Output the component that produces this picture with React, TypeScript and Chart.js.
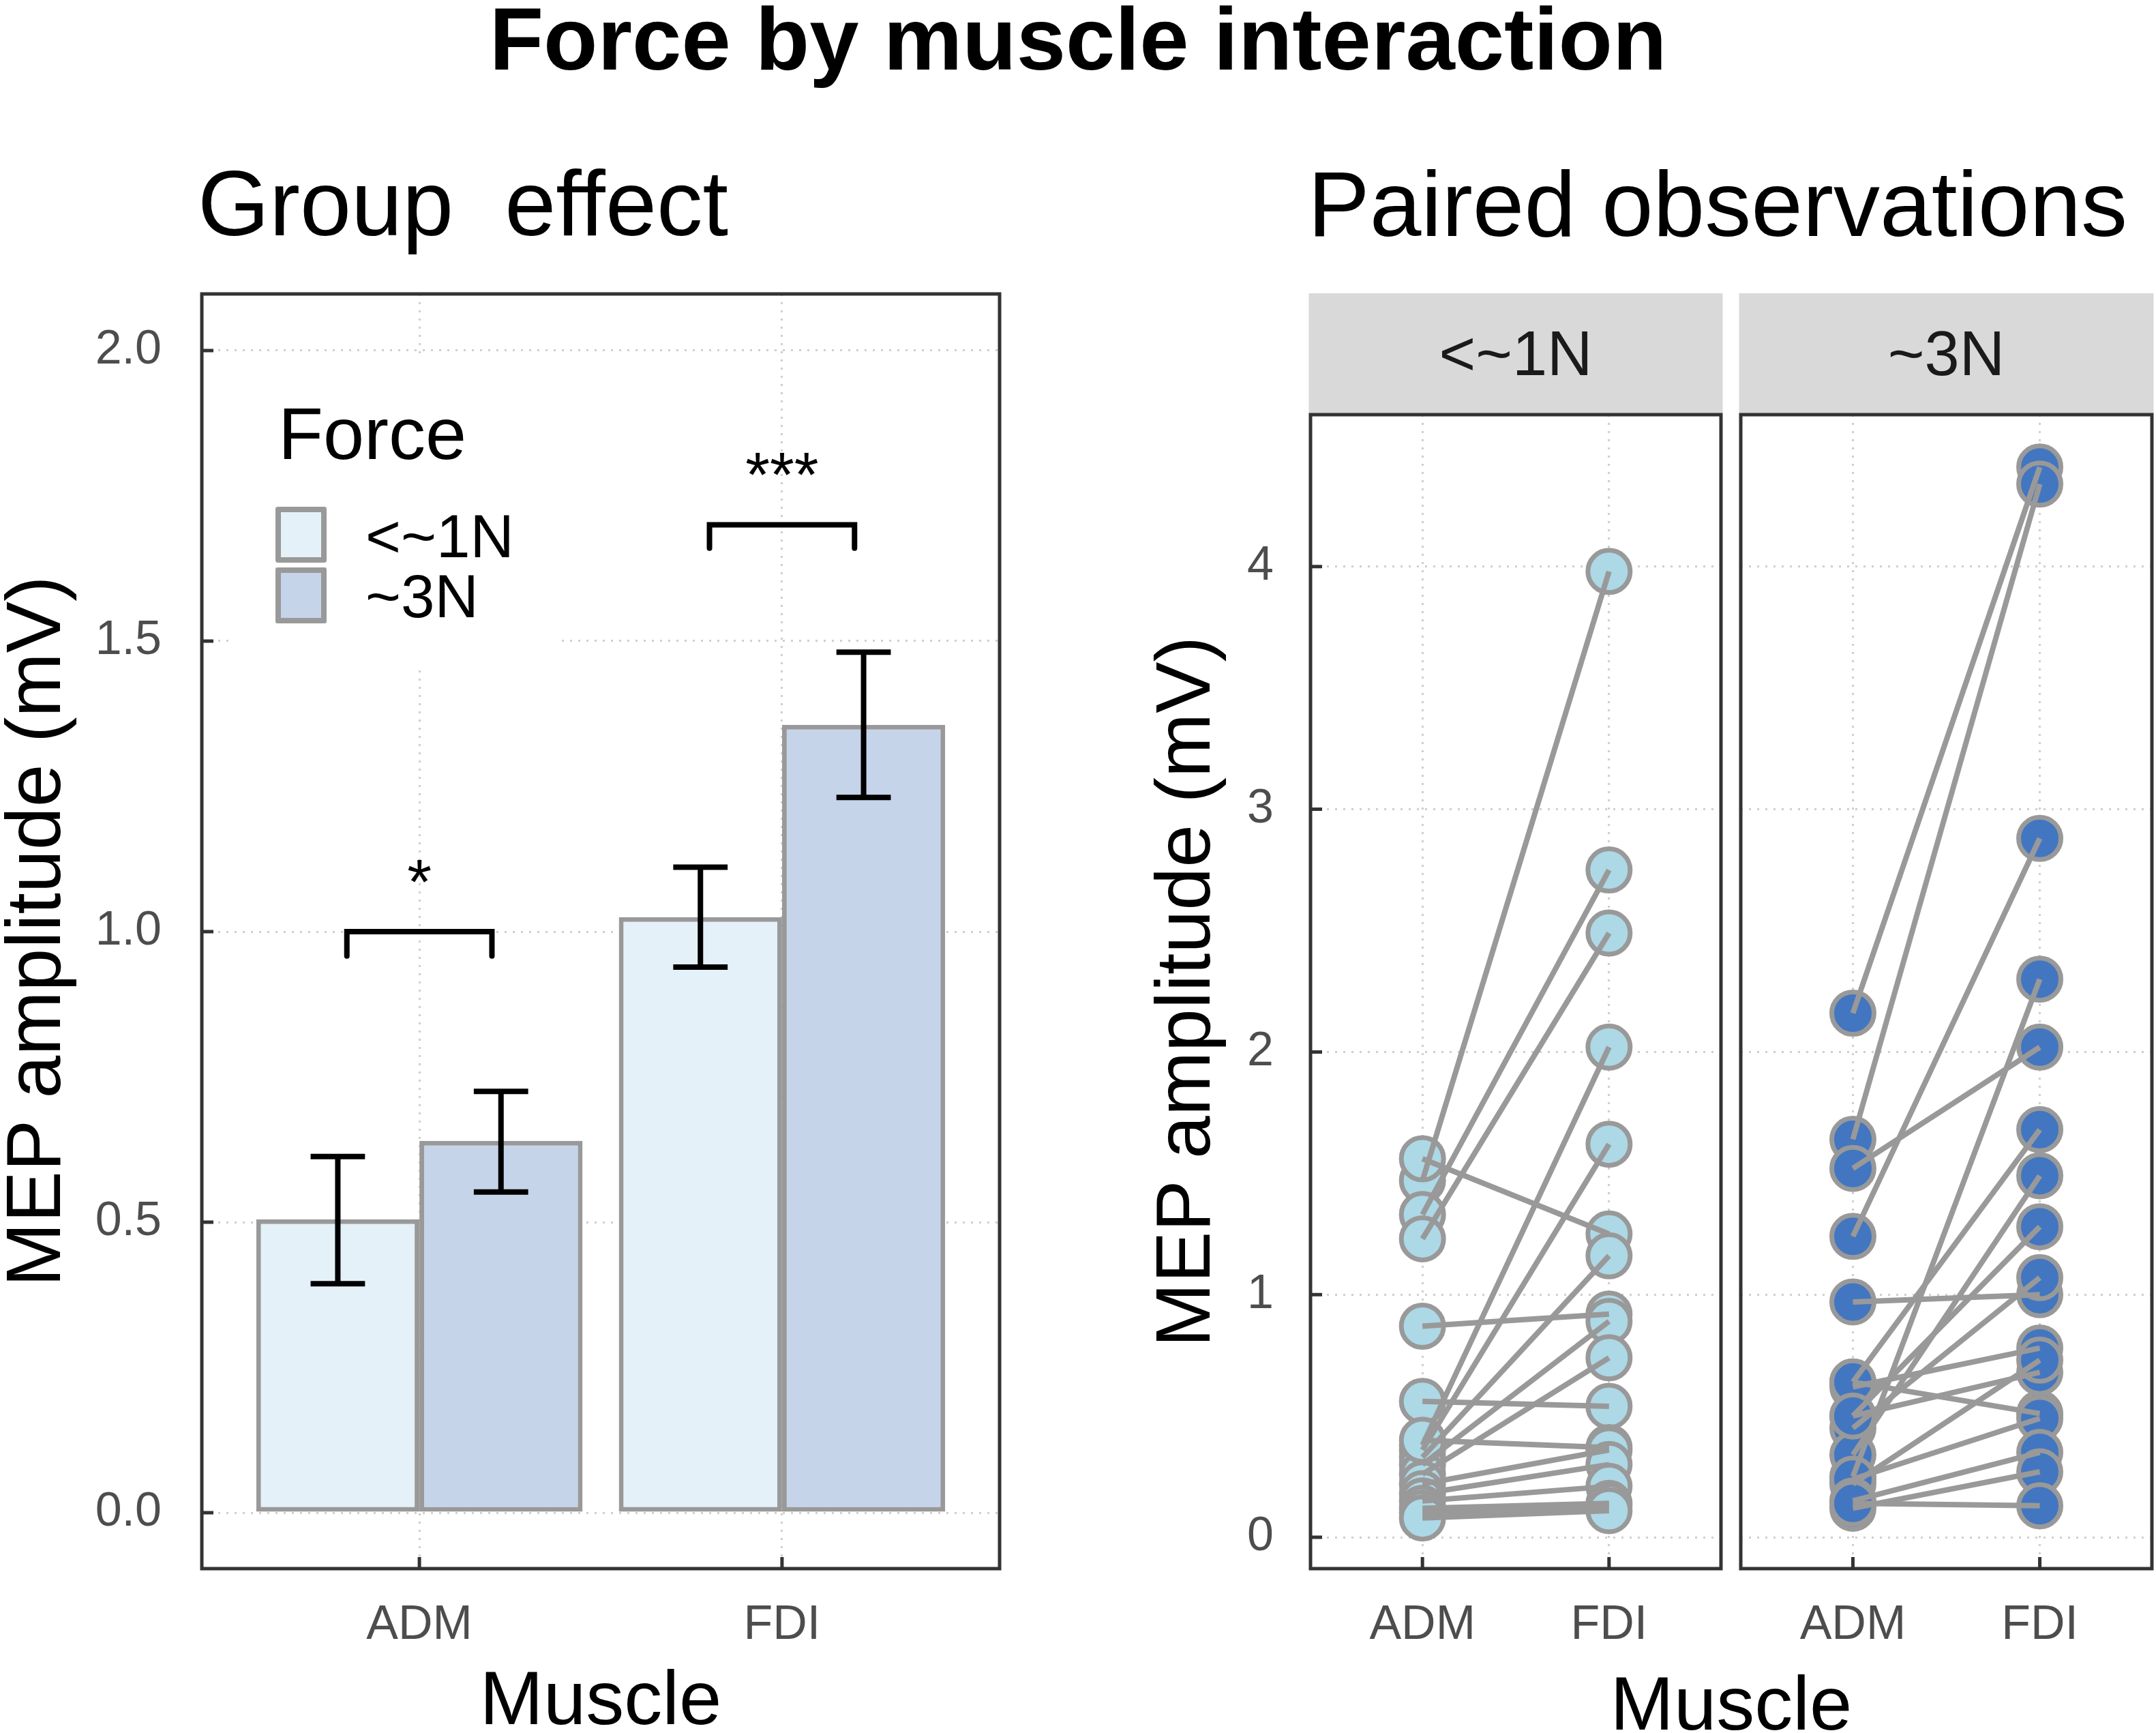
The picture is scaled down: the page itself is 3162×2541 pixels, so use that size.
import React, { useEffect, useRef } from "react";
import { Chart, registerables } from "chart.js";

Chart.register(...registerables);

const FONT = '"Liberation Sans", Arial, Helvetica, sans-serif';
Chart.defaults.font.family = FONT;

// ---------- data ----------
const muscles = ["ADM", "FDI"];
const forces = ["<~1N", "~3N"];
const legendTitle = "Force";

// group effect (means and error bar limits), index = muscle
const meanLow = [0.505, 1.025];
const meanHigh = [0.64, 1.356];
const lowerLow = [0.394, 0.939];
const upperLow = [0.613, 1.111];
const lowerHigh = [0.552, 1.231];
const upperHigh = [0.725, 1.481];

// significance brackets per muscle
const sigLabels = ["*", "***"];
const sigLevels = [1.0, 1.7];
const sigTipLevels = [0.958, 1.66];
const sigLabelLevels = [1.048, 1.749];

const leftTicks = [0, 0.5, 1, 1.5, 2];
const rightTicks = [0, 1, 2, 3, 4];

// paired observations, one entry per participant
const admLow = [1.47, 1.33, 1.23, 1.56, 0.87, 0.56, 0.38, 0.36, 0.33, 0.3, 0.26, 0.4, 0.22, 0.18, 0.15, 0.12, 0.1, 0.08];
const fdiLow = [3.98, 2.75, 2.49, 1.25, 0.92, 0.54, 2.02, 1.62, 1.16, 0.89, 0.74, 0.37, 0.36, 0.3, 0.21, 0.14, 0.13, 0.11];
const admHigh = [2.16, 1.64, 1.24, 1.52, 0.97, 0.25, 0.64, 0.5, 0.45, 0.62, 0.34, 0.64, 0.5, 0.22, 0.24, 0.15, 0.12, 0.14];
const fdiHigh = [4.41, 4.34, 2.88, 2.02, 1.0, 2.3, 1.68, 1.28, 1.07, 0.78, 1.49, 0.51, 0.68, 0.73, 0.49, 0.35, 0.27, 0.13];

// ---------- style ----------
const barColors = ["#E4F1F8", "#C5D4E8"];
const pointColors = ["#ADD8E6", "#4276C0"];
const EDGE = "#999999";
const GRID = "#cfcfcf";
const TICKTXT = "#4d4d4d";

const xIndex = muscles.map((_, i) => i + 1);

const gridOpts = { display: true, offset: false, drawTicks: false, color: GRID, lineWidth: 3 };
const borderOpts = { display: false, dash: [3, 9] };

function xAxis(): any {
  return {
    type: "linear",
    min: 0.4,
    max: 2.6,
    offset: false,
    afterBuildTicks: (s: any) => {
      s.ticks = xIndex.map((v) => ({ value: v }));
    },
    afterFit: (s: any) => {
      s.height = 241;
      s.paddingLeft = 0;
      s.paddingRight = 0;
    },
    grid: gridOpts,
    border: borderOpts,
    ticks: {
      callback: (v: any) => muscles[Math.round(v) - 1],
      font: { size: 70, lineHeight: 1 },
      color: TICKTXT,
      padding: 49,
      maxRotation: 0,
      autoSkip: false,
    },
  };
}

function panelPlugin(showYTicks: boolean) {
  return {
    id: "panelBorder",
    afterDraw(chart: any) {
      const { ctx, chartArea: a, scales } = chart;
      ctx.save();
      ctx.strokeStyle = "#333333";
      ctx.lineWidth = 5;
      ctx.beginPath();
      scales.x.ticks.forEach((t: any) => {
        const px = scales.x.getPixelForValue(t.value);
        ctx.moveTo(px, a.bottom);
        ctx.lineTo(px, a.bottom - 17);
      });
      if (showYTicks) {
        scales.y.ticks.forEach((t: any) => {
          const py = scales.y.getPixelForValue(t.value);
          ctx.moveTo(a.left, py);
          ctx.lineTo(a.left + 17, py);
        });
      }
      ctx.stroke();
      ctx.strokeRect(a.left, a.top, a.right - a.left, a.bottom - a.top);
      ctx.restore();
    },
  };
}

const errorBarPlugin = {
  id: "errorBars",
  afterDatasetsDraw(chart: any) {
    const { ctx, scales } = chart;
    const xs = scales.x;
    const ys = scales.y;
    const lowers = [lowerLow, lowerHigh];
    const uppers = [upperLow, upperHigh];
    const half = xs.getPixelForValue(1.075) - xs.getPixelForValue(1);
    ctx.save();
    ctx.strokeStyle = "#000";
    ctx.lineWidth = 8;
    ctx.lineCap = "butt";
    chart.data.datasets.forEach((_: any, d: number) => {
      const meta = chart.getDatasetMeta(d);
      meta.data.forEach((bar: any, i: number) => {
        const x = bar.x;
        const y1 = ys.getPixelForValue(lowers[d][i]);
        const y2 = ys.getPixelForValue(uppers[d][i]);
        ctx.beginPath();
        ctx.moveTo(x, y1);
        ctx.lineTo(x, y2);
        ctx.moveTo(x - half, y1);
        ctx.lineTo(x + half, y1);
        ctx.moveTo(x - half, y2);
        ctx.lineTo(x + half, y2);
        ctx.stroke();
      });
    });
    // significance brackets
    ctx.lineCap = "round";
    ctx.lineJoin = "miter";
    xIndex.forEach((xc, i) => {
      const x1 = xs.getPixelForValue(xc - 0.2);
      const x2 = xs.getPixelForValue(xc + 0.2);
      const y = ys.getPixelForValue(sigLevels[i]);
      const yt = ys.getPixelForValue(sigTipLevels[i]);
      ctx.beginPath();
      ctx.moveTo(x1, yt);
      ctx.lineTo(x1, y);
      ctx.lineTo(x2, y);
      ctx.lineTo(x2, yt);
      ctx.stroke();
      ctx.fillStyle = "#000";
      ctx.font = `92px ${FONT}`;
      ctx.textAlign = "center";
      ctx.textBaseline = "alphabetic";
      ctx.fillText(sigLabels[i], xs.getPixelForValue(xc), ys.getPixelForValue(sigLabelLevels[i]));
    });
    ctx.restore();
  },
};

const legendPlugin = {
  id: "forceLegend",
  afterDraw(chart: any) {
    const { ctx, chartArea: a } = chart;
    ctx.save();
    ctx.fillStyle = "#fff";
    ctx.fillRect(a.left + 48, a.top + 89, 477, 455);
    ctx.fillStyle = "#000";
    ctx.textAlign = "left";
    ctx.textBaseline = "alphabetic";
    ctx.font = `108px ${FONT}`;
    ctx.fillText(legendTitle, a.left + 112, a.top + 242);
    chart.data.datasets.forEach((ds: any, k: number) => {
      const kx = a.left + 108;
      const ky = a.top + 312 + k * 89;
      const kw = 75;
      const kh = 82;
      ctx.fillStyle = ds.backgroundColor;
      ctx.fillRect(kx, ky, kw, kh);
      ctx.strokeStyle = EDGE;
      ctx.lineWidth = 8;
      ctx.lineJoin = "round";
      ctx.strokeRect(kx + 4, ky + 4, kw - 8, kh - 8);
      ctx.fillStyle = "#000";
      ctx.font = `89px ${FONT}`;
      ctx.fillText(ds.label, a.left + 240, a.top + 386 + k * 88);
    });
    ctx.restore();
  },
};

function stripPlugin(label: string) {
  return {
    id: "strip",
    afterDraw(chart: any) {
      const { ctx, chartArea: a } = chart;
      ctx.save();
      ctx.fillStyle = "#d9d9d9";
      ctx.fillRect(a.left - 2.5, a.top - 178, a.right - a.left + 5, 176);
      ctx.fillStyle = "#1a1a1a";
      ctx.font = `92px ${FONT}`;
      ctx.textAlign = "center";
      ctx.textBaseline = "middle";
      ctx.fillText(label, (a.left + a.right) / 2, a.top - 90 + 7);
      ctx.restore();
    },
  };
}

function leftConfig(): any {
  const means = [meanLow, meanHigh];
  return {
    type: "bar",
    data: {
      datasets: forces.map((f, d) => ({
        label: f,
        data: xIndex.map((x, i) => ({ x, y: means[d][i] })),
        backgroundColor: barColors[d],
        borderColor: EDGE,
        borderWidth: 7,
        borderSkipped: false,
        inflateAmount: 0,
        categoryPercentage: 0.9,
        barPercentage: 1,
      })),
    },
    options: {
      animation: false,
      responsive: false,
      devicePixelRatio: 1,
      events: [],
      layout: { autoPadding: false, padding: { left: 0, top: 51, right: 34, bottom: 0 } },
      plugins: { legend: { display: false }, tooltip: { enabled: false } },
      scales: {
        x: {
          ...xAxis(),
          title: {
            display: true,
            text: "Muscle",
            color: "#000",
            font: { size: 112, lineHeight: 0.78 },
            padding: { top: 0, bottom: 0 },
          },
        },
        y: {
          type: "linear",
          min: -0.0962,
          max: 2.0974,
          afterBuildTicks: (s: any) => {
            s.ticks = leftTicks.map((v) => ({ value: v }));
          },
          afterFit: (s: any) => {
            s.width = 296;
            s.paddingTop = 0;
            s.paddingBottom = 0;
          },
          grid: gridOpts,
          border: borderOpts,
          ticks: {
            callback: (v: any) => Number(v).toFixed(1),
            font: { size: 70, lineHeight: 1 },
            color: TICKTXT,
            padding: 59,
          },
          title: {
            display: true,
            text: "MEP amplitude (mV)",
            color: "#000",
            font: { size: 113, lineHeight: 1 },
            padding: { top: 0, bottom: 0 },
          },
        },
      },
    },
    plugins: [errorBarPlugin, legendPlugin, panelPlugin(true)],
  };
}

function facetConfig(idx: number): any {
  const adm = idx === 0 ? admLow : admHigh;
  const fdi = idx === 0 ? fdiLow : fdiHigh;
  const first = idx === 0;
  const lines = adm.map((a, i) => ({
    type: "line",
    data: [
      { x: xIndex[0], y: a },
      { x: xIndex[1], y: fdi[i] },
    ],
    borderColor: EDGE,
    borderWidth: 8,
    pointRadius: 0,
    pointHoverRadius: 0,
    tension: 0,
    fill: false,
    order: 0,
  }));
  const points = {
    type: "scatter",
    data: [...adm.map((a) => ({ x: xIndex[0], y: a })), ...fdi.map((f) => ({ x: xIndex[1], y: f }))],
    pointRadius: 31,
    pointHoverRadius: 31,
    pointBorderWidth: 7,
    pointBackgroundColor: pointColors[idx],
    pointBorderColor: EDGE,
    order: 1,
  };
  return {
    type: "scatter",
    data: { datasets: [...lines, points] },
    options: {
      animation: false,
      responsive: false,
      devicePixelRatio: 1,
      events: [],
      layout: { autoPadding: false, padding: { left: 0, top: 228, right: first ? 16 : 6, bottom: 0 } },
      plugins: { legend: { display: false }, tooltip: { enabled: false } },
      scales: {
        x: xAxis(),
        y: {
          type: "linear",
          min: -0.129,
          max: 4.626,
          afterBuildTicks: (s: any) => {
            s.ticks = rightTicks.map((v) => ({ value: v }));
          },
          afterFit: (s: any) => {
            s.width = first ? 282 : 13;
            s.paddingTop = 0;
            s.paddingBottom = 0;
          },
          grid: gridOpts,
          border: borderOpts,
          ticks: {
            display: first,
            callback: (v: any) => String(v),
            font: { size: 70, lineHeight: 1 },
            color: TICKTXT,
            padding: 54,
          },
          title: first
            ? {
                display: true,
                text: "MEP amplitude (mV)",
                color: "#000",
                font: { size: 113, lineHeight: 1 },
                padding: { top: 46, bottom: 0 },
              }
            : { display: false },
        },
      },
    },
    plugins: [stripPlugin(forces[idx]), panelPlugin(first)],
  };
}

function ChartCanvas(props: { make: () => any; left: number; top: number; width: number; height: number }) {
  const ref = useRef<HTMLCanvasElement | null>(null);
  useEffect(() => {
    if (!ref.current) return;
    const chart = new Chart(ref.current, props.make());
    return () => chart.destroy();
  }, []);
  return (
    <canvas
      ref={ref}
      width={props.width}
      height={props.height}
      style={{
        position: "absolute",
        left: props.left,
        top: props.top,
        width: props.width,
        height: props.height,
      }}
    />
  );
}

const textBase: React.CSSProperties = {
  position: "absolute",
  fontFamily: FONT,
  lineHeight: 1,
  whiteSpace: "pre",
  color: "#000",
};

export default function App() {
  return (
    <div
      style={{
        position: "fixed",
        left: 0,
        top: 0,
        width: 3162,
        height: 2541,
        background: "#fff",
        overflow: "hidden",
      }}
    >
      <div style={{ ...textBase, left: 0, width: 3162, textAlign: "center", top: -8, fontSize: 130, fontWeight: "bold" }}>
        Force by muscle interaction
      </div>
      <div style={{ ...textBase, left: 290, top: 231, fontSize: 135 }}>{"Group  effect"}</div>
      <div style={{ ...textBase, left: 1918, top: 231, fontSize: 136 }}>Paired observations</div>
      <ChartCanvas make={leftConfig} left={0} top={380} width={1500} height={2161} />
      <ChartCanvas make={() => facetConfig(0)} left={1640} top={380} width={900} height={2161} />
      <ChartCanvas make={() => facetConfig(1)} left={2540} top={380} width={622} height={2161} />
      <div style={{ ...textBase, left: 2539, top: 2442, fontSize: 112, transform: "translateX(-50%)" }}>Muscle</div>
    </div>
  );
}
